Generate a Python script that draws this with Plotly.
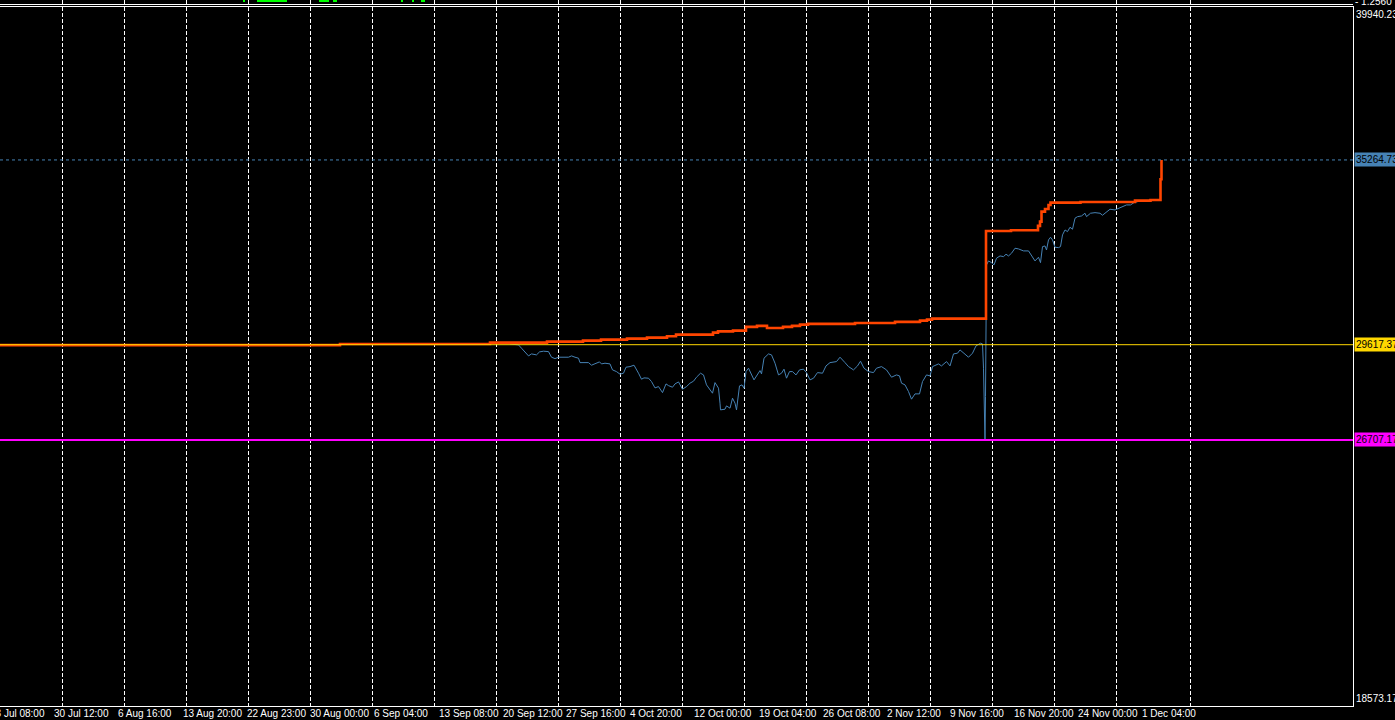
import plotly.graph_objects as go

# ---------------- data ----------------
# x = H1 bar index from the left edge of the chart
balance_bars = [0, 680, 980, 1094, 1166, 1202, 1254, 1294, 1334, 1352, 1426, 1436, 1466, 1492, 1514,
                1534, 1566, 1584, 1600, 1616, 1710, 1790, 1840, 1854, 1864, 1972, 2022, 2076, 2080,
                2083, 2090, 2097, 2101, 2161, 2270, 2301, 2321, 2323]
balance = [29605, 29640, 29681, 29712, 29742, 29773, 29804, 29834, 29877, 29926, 29987, 30024, 30048,
           30161, 30192, 30130, 30161, 30192, 30231, 30253, 30283, 30314, 30354, 30384, 30415, 33095,
           33116, 33250, 33379, 33685, 33767, 33890, 33960, 33981, 34021, 34042, 34675, 35264.7]

equity_bars = [1020, 1037, 1043, 1050, 1057, 1063, 1073, 1079, 1087, 1097, 1103, 1110, 1117, 1137, 1143,
               1150, 1157, 1160, 1177, 1183, 1193, 1199, 1203, 1210, 1220, 1225, 1233, 1240, 1247, 1252,
               1260, 1268, 1277, 1283, 1288, 1297, 1303, 1310, 1317, 1321, 1325, 1332, 1337, 1345, 1350,
               1357, 1365, 1373, 1380, 1387, 1393, 1401, 1407, 1413, 1420, 1425, 1430, 1437, 1440, 1441,
               1450, 1453, 1460, 1465, 1470, 1473, 1479, 1484, 1488, 1492, 1497, 1508, 1520, 1523, 1528,
               1537, 1543, 1550, 1557, 1563, 1568, 1573, 1579, 1585, 1592, 1599, 1607, 1613, 1620, 1627,
               1635, 1645, 1652, 1660, 1673, 1680, 1690, 1697, 1707, 1715, 1721, 1728, 1737, 1747, 1753,
               1763, 1773, 1783, 1793, 1799, 1803, 1810, 1817, 1823, 1830, 1839, 1845, 1853, 1860, 1865,
               1877, 1883, 1893, 1900, 1907, 1915, 1920, 1928, 1937, 1945, 1952, 1961, 1965, 1967, 1968,
               1970, 1971, 1972, 1973, 1977, 1983, 1988, 1993, 2000, 2007, 2012, 2017, 2023, 2030, 2037,
               2047, 2057, 2063, 2070, 2077, 2081, 2085, 2090, 2093, 2097, 2101, 2105, 2110, 2117, 2121,
               2125, 2130, 2135, 2140, 2145, 2150, 2155, 2163, 2170, 2173, 2181, 2190, 2200, 2205, 2213,
               2220, 2230, 2237, 2247, 2253, 2261, 2268, 2280, 2300, 2318]
equity = [29640, 29611, 29510, 29406, 29275, 29336, 29306, 29397, 29419, 29406, 29235, 29192, 29235, 29235,
          29275, 29235, 29205, 29070, 29070, 28991, 29052, 29092, 29030, 29052, 29030, 28847, 28795, 28716,
          28746, 28930, 28948, 28991, 28746, 28563, 28603, 28593, 28490, 28297, 28337, 28257, 28153, 28419,
          28367, 28318, 28419, 28480, 28257, 28337, 28441, 28502, 28624, 28746, 28694, 28389, 28236, 28135,
          28459, 28288, 27830, 27625, 27646, 27747, 27677, 27982, 27830, 27625, 28358, 28389, 28288, 28795,
          28899, 28542, 28826, 28725, 29205, 29336, 29306, 29052, 28694, 28746, 28869, 28594, 28795, 28795,
          28694, 28847, 28869, 28765, 28542, 28593, 28765, 28746, 28969, 29070, 29101, 29235, 29070, 28948,
          28847, 28969, 29113, 28899, 28795, 28765, 28899, 28948, 28847, 28624, 28694, 28664, 28441, 28389,
          28184, 27952, 28114, 28114, 28490, 28694, 28664, 28948, 29030, 28969, 29101, 28969, 29336, 29358,
          29458, 29358, 29235, 29358, 29581, 29663, 29642, 28899, 27472, 26707.1, 28031, 31811, 32056, 32178,
          32126, 32056, 32261, 32331, 32310, 32383, 32331, 32413, 32566, 32545, 32484, 32484, 32331, 32178,
          32291, 32126, 32615, 32636, 32514, 32820, 32902, 32820, 32597, 32585, 32615, 32973, 33125, 33074,
          33208, 33147, 33483, 33532, 33553, 33636, 33532, 33636, 33654, 33636, 33575, 33685, 33758, 33737,
          33789, 33838, 33890, 33890, 33960, 34011, 34027, 34040]

# small indicator sub-window (top strip)
ind_bars = [488, 516, 520, 524, 528, 532, 536, 540, 544, 548, 552, 556, 560, 564, 568, 572,
            640, 644, 648, 652, 656, 668, 672, 804, 826, 844, 848]
ind_vals = [0.45, 0.4, 0.45, 0.4, 0.5, 0.55, 0.5, 0.55, 0.45, 0.5, 0.4, 0.45, 0.4, 0.4, 0.45, 0.4,
            0.4, 0.45, 0.4, 0.4, 0.4, 0.4, 0.45, 0.4, 0.4, 0.45, 0.4]
ind_label = "1.2560"

# price levels
level_max = 35264.73
level_open = 29617.37
level_min = 26707.17
y_top = 39940.23
y_bottom = 18573.17

# time axis
grid_bars = [124 * i for i in range(19)] + [2380]
label_bars = [-19, 109, 238, 368, 496, 622, 750, 880, 1007, 1134, 1262, 1390, 1519, 1647, 1776,
              1902, 2029, 2157, 2286]
label_texts = ["23 Jul 08:00", "30 Jul 12:00", "6 Aug 16:00", "13 Aug 20:00", "22 Aug 23:00",
               "30 Aug 00:00", "6 Sep 04:00", "13 Sep 08:00", "20 Sep 12:00", "27 Sep 16:00",
               "4 Oct 20:00", "12 Oct 00:00", "19 Oct 04:00", "26 Oct 08:00", "2 Nov 12:00",
               "9 Nov 16:00", "16 Nov 20:00", "24 Nov 00:00", "1 Dec 04:00"]
x_range = [0, 2706]

# ---------------- figure ----------------
FONT = "Liberation Sans"
fig = go.Figure()

fig.add_trace(go.Scatter(x=equity_bars, y=equity, mode="lines",
                         line=dict(color="#4682B4", width=1), xaxis="x", yaxis="y",
                         hoverinfo="skip"))
fig.add_trace(go.Scatter(x=balance_bars, y=balance, mode="lines",
                         line=dict(color="#FF4500", width=2.6, shape="hv"), xaxis="x", yaxis="y",
                         hoverinfo="skip"))
fig.add_trace(go.Bar(x=ind_bars, y=ind_vals, marker=dict(color="#00FF00", line=dict(width=0)),
                     width=2, xaxis="x2", yaxis="y2", hoverinfo="skip"))

# level lines
fig.add_shape(type="line", xref="paper", x0=0, x1=1, yref="y", y0=level_max, y1=level_max,
              line=dict(color="#4682B4", width=1, dash="3px,3px"))
fig.add_shape(type="line", xref="paper", x0=0, x1=1, yref="y", y0=level_open, y1=level_open,
              line=dict(color="#FFD700", width=1))
fig.add_shape(type="line", xref="paper", x0=0, x1=1, yref="y", y0=level_min, y1=level_min,
              line=dict(color="#FF00FF", width=2))

H = 720
B = 14
plot_h = H - B
main_top = (plot_h - 7) / plot_h
strip_bottom = (plot_h - 4.3) / plot_h

grid_style = dict(showgrid=True, gridcolor="white", gridwidth=1, griddash="4px,2px")

fig.update_layout(
    width=1395, height=H,
    margin=dict(l=0, r=42, t=0, b=B, pad=0, autoexpand=False),
    paper_bgcolor="black", plot_bgcolor="black",
    showlegend=False, bargap=0,
    xaxis=dict(domain=[0, 1], range=x_range, anchor="y", tickvals=grid_bars,
               showticklabels=False, ticks="inside", ticklen=3, tickcolor="white",
               showline=True, linecolor="white", linewidth=1, mirror=True, zeroline=False,
               automargin=False, **grid_style),
    yaxis=dict(domain=[0, main_top], range=[y_bottom, y_top], side="right",
               showline=True, linecolor="white", linewidth=1, showgrid=False,
               showticklabels=False, ticks="", zeroline=False, automargin=False),
    xaxis2=dict(domain=[0, 1], range=x_range, anchor="y2", matches="x", tickvals=grid_bars,
                showticklabels=False, ticks="", showline=True, linecolor="white", linewidth=1,
                zeroline=False, automargin=False, **grid_style),
    yaxis2=dict(domain=[strip_bottom, 1], range=[1, 0], side="right", anchor="x2",
                showgrid=False, zeroline=False, showline=False, automargin=False,
                showticklabels=False, ticks=""),
)

annotations = []
# time labels (positioned in paper units derived from the bar index)
span = x_range[1] - x_range[0]
for b, t in zip(label_bars, label_texts):
    annotations.append(dict(x=(b - x_range[0]) / span, y=0, xref="paper", yref="paper", text=t,
                            showarrow=False, xanchor="left", yanchor="top", xshift=-3, yshift=0,
                            font=dict(color="white", size=10, family=FONT)))
# indicator scale label
annotations.append(dict(x=1, y=1, xref="paper", yref="paper", text="- " + ind_label,
                        showarrow=False, xanchor="left", yanchor="middle", xshift=0, yshift=-1,
                        font=dict(color="white", size=10, family=FONT)))
# price scale labels
annotations.append(dict(x=1, y=y_top, xref="paper", yref="y", text=f"{y_top:.2f}",
                        showarrow=False, xanchor="left", yanchor="top", xshift=1,
                        font=dict(color="white", size=10, family=FONT)))
annotations.append(dict(x=1, y=y_bottom, xref="paper", yref="y", text=f"{y_bottom:.2f}",
                        showarrow=False, xanchor="left", yanchor="bottom", xshift=1,
                        font=dict(color="white", size=10, family=FONT)))
for val, col in [(level_max, "#4682B4"), (level_open, "#FFD700"), (level_min, "#FF00FF")]:
    annotations.append(dict(x=1, y=val, xref="paper", yref="y", text=f"{val:.2f}",
                            showarrow=False, xanchor="left", yanchor="middle", xshift=1,
                            bgcolor=col, borderpad=1,
                            font=dict(color="black", size=10, family=FONT)))
fig.update_layout(annotations=annotations)

fig.write_html("out.html", config={"displayModeBar": False},
               post_script="document.body.style.margin='0';document.body.style.background='black';")
